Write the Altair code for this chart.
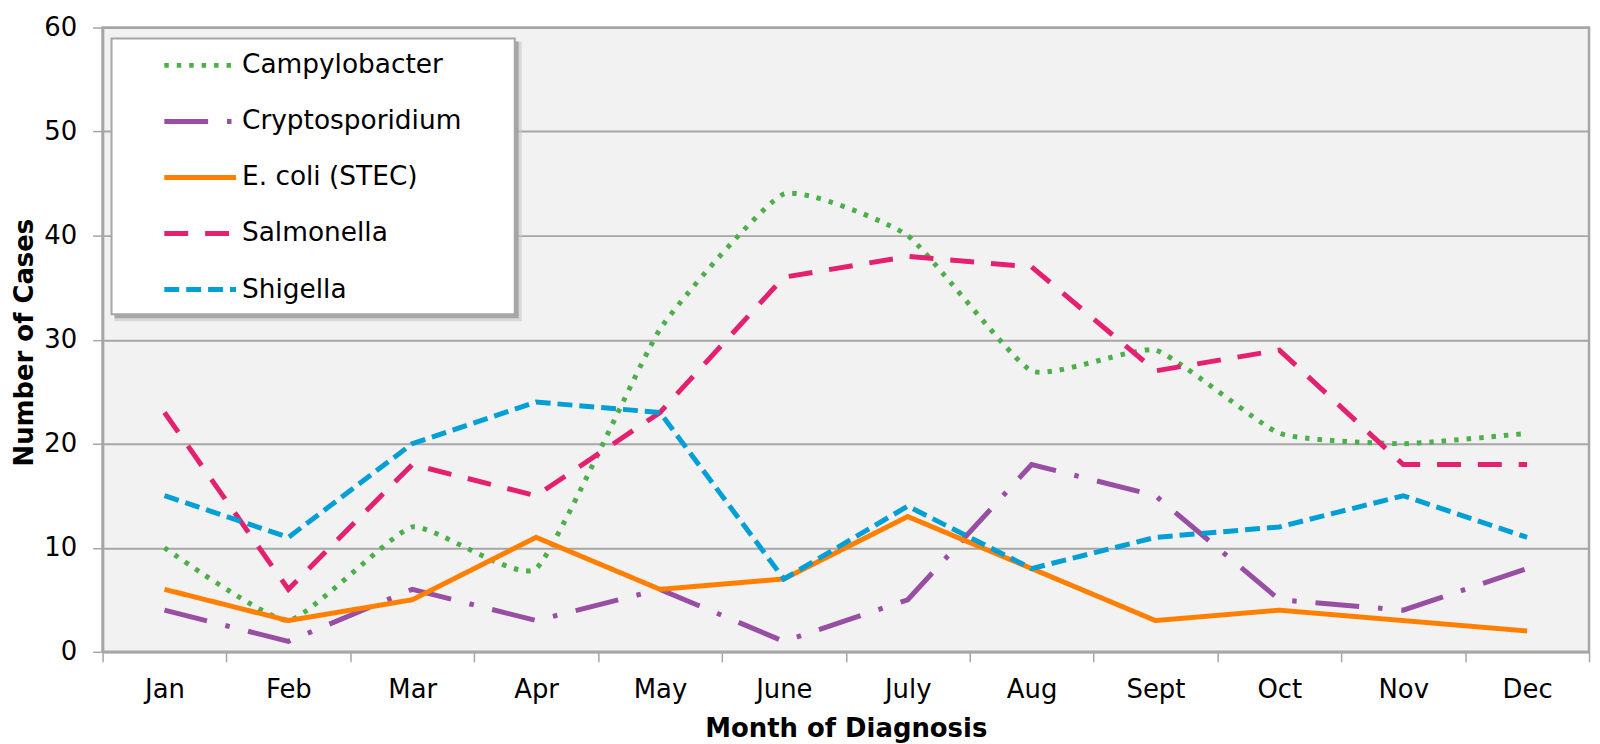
import altair as alt
import pandas as pd

months = ["Jan", "Feb", "Mar", "Apr", "May", "June", "July", "Aug", "Sept", "Oct", "Nov", "Dec"]
series = ["Campylobacter", "Cryptosporidium", "E. coli (STEC)", "Salmonella", "Shigella"]
campylobacter = [10, 3, 12, 8, 31, 44, 40, 27, 29, 21, 20, 21]
cryptosporidium = [4, 1, 6, 3, 6, 1, 5, 18, 15, 5, 4, 8]
ecoli = [6, 3, 5, 11, 6, 7, 13, 8, 3, 4, 3, 2]
salmonella = [23, 6, 18, 15, 23, 36, 38, 37, 27, 29, 18, 18]
shigella = [15, 11, 20, 24, 23, 7, 14, 8, 11, 12, 15, 11]
y_ticks = [0, 10, 20, 30, 40, 50, 60]

colors = ["#4daf4a", "#984ea3", "#ff7f00", "#e5206f", "#009fd6"]
dashes = [[4.5, 8], [44, 19, 4.5, 19], [1, 0], [24, 17], [15, 7]]

values = [campylobacter, cryptosporidium, ecoli, salmonella, shigella]
rows = []
for s, vals in zip(series, values):
    for m, v in zip(months, vals):
        rows.append({"month": m, "series": s, "cases": v})
df = pd.DataFrame(rows)

FONT = "DejaVu Sans"
GRAY = "#a6a6a6"
LW = 5

legend = alt.Legend(
    title=None, orient="none", legendX=59.5, legendY=-0.5, padding=0,
    symbolType="stroke", symbolSize=5184, symbolStrokeWidth=LW,
    symbolOffset=0, labelOffset=3.5, rowPadding=4.3, labelLimit=500,
    labelFont=FONT, labelFontSize=26.5, labelColor="#000000",
)

x_enc = alt.X(
    "month:N", sort=months,
    scale=alt.Scale(type="band", paddingInner=0, paddingOuter=0),
    bandPosition=0.5,
    axis=alt.Axis(
        title="Month of Diagnosis", tickBand="extent", tickSize=10, tickWidth=1.5,
        tickColor=GRAY, labelPadding=36, labelBaseline="alphabetic", labelAngle=0,
        domainColor=GRAY, domainWidth=2.5, grid=False,
        labelFont=FONT, labelFontSize=26, labelColor="#000000",
        titleFont=FONT, titleFontSize=26, titleFontWeight="bold", titleColor="#000000",
        titleY=85, titleBaseline="alphabetic",
    ),
)
y_enc = alt.Y(
    "cases:Q",
    scale=alt.Scale(domain=[0, 60], nice=False),
    axis=alt.Axis(
        title="Number of Cases", values=y_ticks, tickSize=10, tickWidth=1.5,
        tickColor=GRAY, labelPadding=16, grid=True, gridColor=GRAY, gridWidth=2,
        domainColor=GRAY, domainWidth=2.5,
        labelFont=FONT, labelFontSize=26, labelColor="#000000",
        titleFont=FONT, titleFontSize=26, titleFontWeight="bold", titleColor="#000000",
        titleX=-70, titleY=316, titleAngle=270, titleBaseline="alphabetic",
        titleAlign="center",
    ),
)
color_enc = alt.Color("series:N", scale=alt.Scale(domain=series, range=colors), legend=legend)
dash_enc = alt.StrokeDash("series:N", scale=alt.Scale(domain=series, range=dashes), legend=legend)

box_df = pd.DataFrame({"k": [0]})
shadow2 = alt.Chart(box_df).mark_rect(fill="#c8c8c8", opacity=0.6).encode(
    x=alt.value(12), x2=alt.value(421), y=alt.value(14), y2=alt.value(295))
shadow1 = alt.Chart(box_df).mark_rect(fill="#9a9a9a", opacity=0.8).encode(
    x=alt.value(12), x2=alt.value(418), y=alt.value(14), y2=alt.value(292))
box = alt.Chart(box_df).mark_rect(fill="white", stroke=GRAY, strokeWidth=2).encode(
    x=alt.value(9), x2=alt.value(414), y=alt.value(11), y2=alt.value(288))

smooth = alt.Chart(df[df.series == "Campylobacter"]).mark_line(
    strokeWidth=LW, interpolate="cardinal", tension=0.55).encode(
    x=x_enc, y=y_enc, color=color_enc, strokeDash=dash_enc)
straight = alt.Chart(df[df.series != "Campylobacter"]).mark_line(
    strokeWidth=LW).encode(
    x=x_enc, y=y_enc, color=color_enc, strokeDash=dash_enc,
    order=alt.Order("series:N"))

chart = alt.layer(shadow2, shadow1, box, smooth, straight).properties(
    width=1493, height=627,
    background="white",
    autosize=alt.AutoSizeParams(type="none"),
    padding={"left": 95, "top": 18, "right": 3, "bottom": 93},
).configure_view(
    fill="#f2f2f2", stroke=GRAY, strokeWidth=2.5,
).configure_axis(
    labelFont=FONT, labelFontSize=26, labelColor="#000000",
    titleFont=FONT, titleFontSize=26, titleFontWeight="bold", titleColor="#000000",
)

chart.save("out.html", embed_options={"renderer": "svg", "actions": False})
